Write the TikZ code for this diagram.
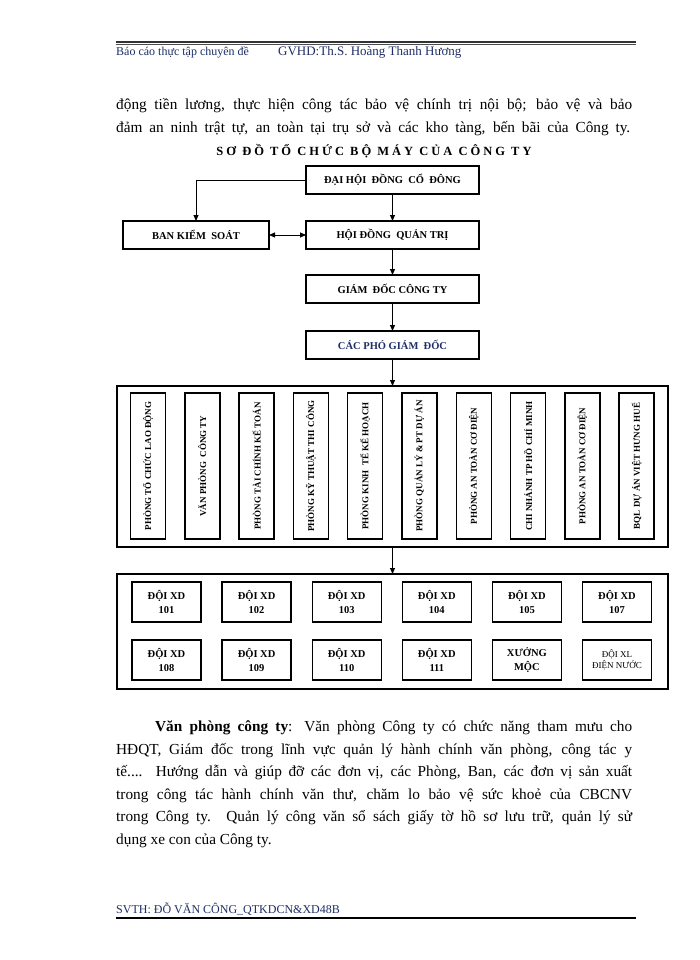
\documentclass[tikz,border=0pt]{standalone}
\usepackage{fontspec}
\setmainfont{Liberation Serif}
\usetikzlibrary{positioning}
\usetikzlibrary{arrows.meta}
\definecolor{ink}{HTML}{1F2F66}
\tikzset{
  % one box of the main chain
  orgbox/.style={
    draw=black, line width=1.6pt, fill=white, rectangle, align=center,
    font=\bfseries\fontsize{10.5}{12}\selectfont, inner sep=0pt, outer sep=0pt,
    minimum width=#1, minimum height=28pt},
  % the two large frames
  frame/.style={draw=black, line width=1.6pt, rectangle, inner sep=0pt, outer sep=0pt,
    minimum width=551pt, minimum height=#1},
  % a department, written upwards
  deptbox/.style={
    draw=black, line width=1.5pt, fill=white, rectangle, rotate=90,
    font=\bfseries\fontsize{9}{10}\selectfont, inner sep=0pt,
    minimum width=146pt, minimum height=35pt},
  % a construction team
  teambox/.style={
    draw=black, line width=1.3pt, fill=white, rectangle, align=center,
    font=\bfseries\fontsize{10.5}{14}\selectfont, inner sep=0pt,
    minimum width=69pt, minimum height=40pt},
  % page text
  line/.style={anchor=base west, inner sep=0pt, font=\fontsize{15.3}{22}\selectfont},
  head/.style={anchor=base west, inner sep=0pt, text=ink, font=\fontsize{12}{14}\selectfont},
  % connectors
  flow/.style={-{Triangle[length=6pt,width=5pt]}, line width=0.9pt},
  both/.style={{Triangle[length=6pt,width=5pt]}-{Triangle[length=6pt,width=5pt]}, line width=0.9pt},
}

\begin{document}
\begin{tikzpicture}[x=1pt, y=-1pt]
\useasboundingbox[fill=white] (0,0) rectangle (700,960);

% header and footer
\coordinate (hl) at (116,42);
\coordinate (hr) at (636,42);
\draw[line width=1.5pt, black!80] (hl) -- (hr);
\draw[line width=0.6pt, black!70] ([yshift=-2.6pt]hl) -- ([yshift=-2.6pt]hr);
\node[head] (h1) at (116,56) {Báo cáo thực tập chuyên đề};
\node[head, font=\fontsize{13}{14}\selectfont] (h2) at (278,56) {GVHD:Th.S. Hoàng Thanh Hương};

\node[head] (f1) at (116,913) {SVTH: ĐỖ VĂN CÔNG\_QTKDCN\&XD48B};
\coordinate (fl) at (116,918);
\coordinate (fr) at (636,918);
\draw[line width=2pt] (fl) -- (fr);

% text before the chart
\node[line] (p1a) at (116,110) {\makebox[516pt][s]{động tiền lương, thực hiện công tác bảo vệ chính trị nội bộ; bảo vệ và bảo}};
\node[line] (p1b) at (116,133) {\makebox[514pt][s]{đảm an ninh trật tự, an toàn tại trụ sở và các kho tàng, bến bãi của Công ty.}};

\node[font=\bfseries\fontsize{12.5}{14}\selectfont\addfontfeature{LetterSpace=24}, inner sep=0pt]
  (title) at (374,151) {SƠ ĐỒ TỔ CHỨC BỘ MÁY CỦA CÔNG TY};

% chain
\node[orgbox=173pt] (dhd) at (392.5,180) {ĐẠI HỘI\ \ ĐỒNG\ \ CỔ\ \ ĐÔNG};
\node[orgbox=173pt, below=27pt of dhd] (hdqt) {HỘI ĐỒNG\ \ QUẢN\ TRỊ};
\node[orgbox=146pt, left=37pt of hdqt] (bks) {BAN KIỂM\ \ SOÁT};
\node[orgbox=173pt, below=26pt of hdqt] (gd) {GIÁM\ \ ĐỐC\ CÔNG\ TY};
\node[orgbox=173pt, below=28pt of gd, text=ink] (cpgd) {CÁC PHÓ\ GIÁM\ \ ĐỐC};

\node[frame=161pt, below=27pt of cpgd] (phong) {};
\node[frame=115pt, below=27pt of phong] (doi) {};

% departments
\foreach \t [count=\i] in {
  PHÒNG TỔ CHỨC LAO ĐỘNG, VĂN PHÒNG\ \ CÔNG TY, PHÒNG TÀI CHÍNH KẾ TOÁN,
  PHÒNG KỸ THUẬT THI CÔNG, PHÒNG KINH\ \ TẾ KẾ HOẠCH, PHÒNG QUẢN LÝ \& PT DỰ ÁN,
  PHÒNG AN TOÀN CƠ ĐIỆN, CHI NHÁNH TP HỒ CHÍ MINH, PHÒNG AN TOÀN CƠ ĐIỆN,
  BQL DỰ ÁN VIỆT HƯNG HUẾ}
  \node[deptbox] (d\i) at ({148+54.3*(\i-1)},466) {\t};

% teams
\foreach \t [count=\i] in {101,102,103,104,105,107}
  \node[teambox] (a\i) at ({166.5+90.1*(\i-1)},602) {ĐỘI XD\\\t};
\foreach \t [count=\i] in {108,109,110,111}
  \node[teambox] (b\i) at ({166.5+90.1*(\i-1)},660) {ĐỘI XD\\\t};
\node[teambox] (b5) at (526.9,660) {XƯỞNG\\MỘC};
\node[teambox, font=\fontsize{9}{10.5}\selectfont] (b6) at (617,660) {ĐỘI XL\\ĐIỆN NƯỚC};

\draw[flow] (dhd.west) -| (bks.north);
\draw[flow] (dhd.south) -- (hdqt.north);
\draw[both] (bks.east) -- (hdqt.west);
\draw[flow] (hdqt) -- (gd);
\draw[flow] (gd) -- (cpgd);
\draw[flow] (cpgd.south) -- (cpgd.south |- phong.north);
\draw[flow] (cpgd.south |- phong.south) -- (cpgd.south |- doi.north);

% text after the chart
\node[line] (p2a) at (155,731) {\makebox[477pt][s]{\textbf{Văn phòng công ty}: Văn phòng Công ty có chức năng tham mưu cho}};
\node[line] (p2b) at (116,754) {\makebox[516pt][s]{HĐQT, Giám đốc trong lĩnh vực quản lý hành chính văn phòng, công tác y}};
\node[line] (p2c) at (116,776) {\makebox[516pt][s]{tế.... Hướng dẫn và giúp đỡ các đơn vị, các Phòng, Ban, các đơn vị sản xuất}};
\node[line] (p2d) at (116,799) {\makebox[516pt][s]{trong công tác hành chính văn thư, chăm lo bảo vệ sức khoẻ của CBCNV}};
\node[line] (p2e) at (116,821) {\makebox[516pt][s]{trong Công ty. Quản lý công văn sổ sách giấy tờ hồ sơ lưu trữ, quản lý sử}};
\node[line] (p2f) at (116,844) {dụng xe con của Công ty.};

\end{tikzpicture}
\end{document}
